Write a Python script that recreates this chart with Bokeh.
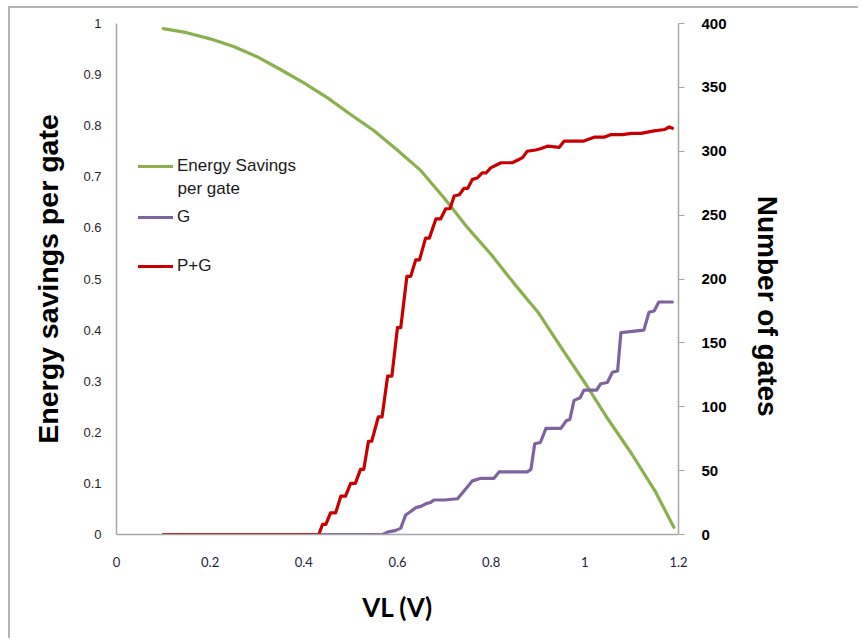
from bokeh.plotting import figure
from bokeh.models import (Range1d, LinearAxis, FixedTicker, NumeralTickFormatter,
                          Legend, LegendItem, Label)
from bokeh.embed import file_html
from bokeh.resources import INLINE

# ---------------- data ----------------
vl_energy = [0.10, 0.15, 0.20, 0.25, 0.30, 0.35, 0.40, 0.45, 0.50, 0.55, 0.60, 0.65,
             0.70, 0.75, 0.80, 0.85, 0.90, 0.95, 1.00, 1.05, 1.10, 1.15, 1.19]
energy_savings = [0.990, 0.982, 0.970, 0.955, 0.935, 0.910, 0.884, 0.855, 0.822, 0.790,
                  0.752, 0.712, 0.658, 0.600, 0.548, 0.490, 0.435, 0.365, 0.297, 0.225,
                  0.158, 0.085, 0.014]

vl_pg = [0.10, 0.432, 0.44, 0.447, 0.457, 0.468, 0.479, 0.489, 0.500, 0.510, 0.521, 0.528,
         0.538, 0.545, 0.559, 0.567, 0.579, 0.588, 0.600, 0.607, 0.620, 0.628, 0.639, 0.647,
         0.660, 0.668, 0.682, 0.692, 0.703, 0.712, 0.721, 0.732, 0.742, 0.750, 0.760, 0.770,
         0.781, 0.789, 0.799, 0.810, 0.821, 0.845, 0.856, 0.867, 0.877, 0.895, 0.905, 0.920,
         0.945, 0.956, 0.998, 1.005, 1.020, 1.041, 1.055, 1.080, 1.100, 1.120, 1.148, 1.170,
         1.180, 1.187]
gates_pg = [0, 0, 8, 8, 17, 17, 30, 30, 40, 40, 51, 51, 73, 73, 92, 92, 124, 124, 162, 162,
            202, 202, 215, 215, 232, 232, 247, 247, 255, 255, 265, 266, 271, 271, 278, 279,
            283, 283, 287, 289, 291, 291, 293, 295, 300, 301, 302, 304, 303, 308, 308, 309,
            311, 311, 313, 313, 314, 314, 316, 317, 319, 318]

vl_g = [0.10, 0.568, 0.580, 0.595, 0.607, 0.612, 0.617, 0.628, 0.639, 0.650, 0.660, 0.670,
        0.678, 0.700, 0.728, 0.742, 0.760, 0.778, 0.806, 0.817, 0.877, 0.885, 0.893, 0.905,
        0.917, 0.949, 0.960, 0.968, 0.977, 0.990, 0.998, 1.025, 1.034, 1.048, 1.059, 1.070,
        1.077, 1.126, 1.137, 1.148, 1.158, 1.187]
gates_g = [0, 0, 2, 3, 5, 10, 15, 18, 21, 22, 24, 25, 27, 27, 28, 34, 42, 44, 44, 49, 49, 51,
           71, 72, 83, 83, 89, 90, 105, 107, 113, 113, 118, 119, 127, 128, 158, 160, 174, 175,
           182, 182]

x_ticks = [0, 0.2, 0.4, 0.6, 0.8, 1.0, 1.2]
y_ticks = [0, 0.1, 0.2, 0.3, 0.4, 0.5, 0.6, 0.7, 0.8, 0.9, 1.0]
gate_ticks = [0, 50, 100, 150, 200, 250, 300, 350, 400]

series_names = ["Energy Savings", "G", "P+G"]
x_title = "VL (V)"
y_title = "Energy savings per gate"
y2_title = "Number of gates"

# ---------------- figure ----------------
FONT = "Liberation Sans"
AXIS_GRAY = "#a6a6a6"

p = figure(width=850, height=632, output_backend="svg", toolbar_location=None,
           x_range=Range1d(0, 1.2), y_range=Range1d(0, 1),
           min_border_left=106, min_border_right=182, min_border_top=15,
           min_border_bottom=106)
p.styles = {"margin-left": "8px", "margin-top": "6px",
            "border-left": "2px solid #b4b4b4", "border-top": "2px solid #b4b4b4"}
p.extra_y_ranges = {"gates": Range1d(0, 400)}
p.grid.visible = False
p.outline_line_color = None
p.background_fill_color = "white"
p.border_fill_color = "white"

# bottom axis
xa = p.xaxis[0]
xa.ticker = FixedTicker(ticks=x_ticks)
xa.formatter = NumeralTickFormatter(format="0.[0]")
xa.axis_line_color = AXIS_GRAY
xa.axis_line_width = 1.5
xa.major_tick_out = 0
xa.major_tick_in = 0
xa.minor_tick_out = 0
xa.minor_tick_in = 0
xa.major_label_standoff = 22
xa.major_label_text_font = "Lato"
xa.major_label_text_font_size = "13px"
xa.major_label_text_color = "#1e2238"
xa.axis_label = x_title
xa.axis_label_text_font = "Lato"
xa.axis_label_text_font_size = "26px"
xa.axis_label_text_font_style = "bold"
xa.axis_label_text_color = "black"
xa.axis_label_standoff = 21

# left axis
ya = p.yaxis[0]
ya.ticker = FixedTicker(ticks=y_ticks)
ya.formatter = NumeralTickFormatter(format="0.[0]")
ya.axis_line_color = AXIS_GRAY
ya.axis_line_width = 1.5
ya.major_tick_out = 0
ya.major_tick_in = 0
ya.minor_tick_out = 0
ya.minor_tick_in = 0
ya.major_label_standoff = 15
ya.major_label_text_font = FONT
ya.major_label_text_font_size = "13px"
ya.major_label_text_color = "#262626"
ya.axis_label = y_title
ya.axis_label_text_font = FONT
ya.axis_label_text_font_size = "28.5px"
ya.axis_label_text_font_style = "bold"
ya.axis_label_text_color = "black"
ya.axis_label_standoff = 16

# right axis
ra = LinearAxis(y_range_name="gates", ticker=FixedTicker(ticks=gate_ticks))
ra.formatter = NumeralTickFormatter(format="0")
ra.axis_line_color = AXIS_GRAY
ra.axis_line_width = 1.5
ra.major_tick_line_color = AXIS_GRAY
ra.major_tick_out = 6
ra.major_tick_in = 0
ra.minor_tick_out = 0
ra.minor_tick_in = 0
ra.major_label_standoff = 17
ra.major_label_text_font = FONT
ra.major_label_text_font_size = "15px"
ra.major_label_text_font_style = "bold"
ra.major_label_text_color = "black"
ra.axis_label = "\u00a0" * 7 + y2_title
ra.axis_label_text_font = FONT
ra.axis_label_text_font_size = "28px"
ra.axis_label_text_font_style = "bold"
ra.axis_label_text_color = "black"
ra.axis_label_standoff = 22
p.add_layout(ra, "right")

# ---------------- series ----------------
GREEN = "#8bb14f"
PURPLE = "#7f63a1"
RED = "#c80000"

r_e = p.line(vl_energy, energy_savings, line_color=GREEN, line_width=3.2,
             line_join="round", line_cap="round")
r_g = p.line(vl_g, gates_g, y_range_name="gates", line_color=PURPLE, line_width=3.2,
             line_join="round", line_cap="round")
r_pg = p.line(vl_pg, gates_pg, y_range_name="gates", line_color=RED, line_width=3.2,
              line_join="round", line_cap="round")

# ---------------- legend (three single entries) ----------------
LEG_FS = "17px"


def make_legend(name, rend, loc):
    lg = Legend(items=[LegendItem(label=name, renderers=[rend])], location=loc,
                padding=0, margin=0, spacing=0, border_line_alpha=0,
                background_fill_alpha=0, glyph_width=35, glyph_height=20,
                label_height=20, label_standoff=4, label_text_font=FONT,
                label_text_font_size=LEG_FS, label_text_color="#1a1a1a")
    p.add_layout(lg)


make_legend(series_names[0], r_e, (22, 358))
make_legend(series_names[1], r_g, (22, 307))
make_legend(series_names[2], r_pg, (22, 258))

p.add_layout(Label(x=61, y=346, x_units="screen", y_units="screen", text="per gate",
                   text_align="left", text_baseline="middle", text_font=FONT,
                   text_font_size=LEG_FS, text_color="#1a1a1a"))

open("out.html", "w").write(file_html(p, INLINE))
